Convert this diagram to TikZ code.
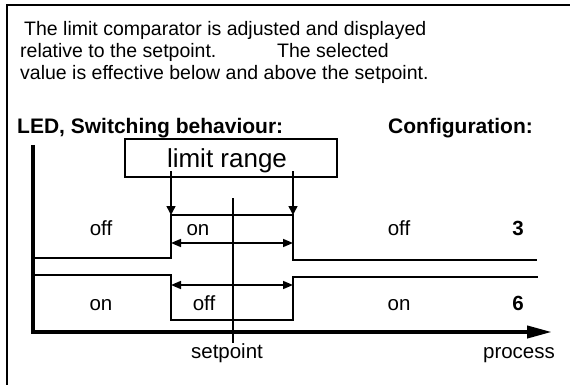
\documentclass[tikz,border=0pt]{standalone}
\usepackage{fontspec}
\setmainfont{Liberation Sans}
\usetikzlibrary{arrows.meta}
\begin{document}
\begin{tikzpicture}[x=1pt,y=-1pt,
  txt/.style={font=\fontsize{19.5}{22}\selectfont, inner sep=0pt, anchor=base west},
  hdr/.style={font=\fontsize{21}{24}\selectfont\bfseries, inner sep=0pt, anchor=base west},
  lbl/.style={font=\fontsize{20.5}{24}\selectfont, inner sep=0pt, anchor=base},
  cfg/.style={font=\fontsize{20.5}{24}\selectfont\bfseries, inner sep=0pt, anchor=base},
  frame/.style={line width=2pt},
  axis/.style={line width=4pt},
  curve/.style={line width=2pt, line join=miter},
  thin/.style={line width=1.5pt},
  dn/.style={line width=1.5pt, -{Triangle[length=9pt,width=9pt]}},
  dbl/.style={line width=1.5pt, {Triangle[length=10pt,width=8pt]}-{Triangle[length=10pt,width=8pt]}},
]
\useasboundingbox (0,0) rectangle (570,385);
% frame
\coordinate (fa) at (7,385);
\coordinate (fb) at (7,5);
\coordinate (fc) at (570,5);
\draw[frame] (fa) -- (fb) -- (fc);
% top text
\node[txt] (t1) at (24,36) {The limit comparator is adjusted and displayed};
\node[txt] (t2a) at (20,58) {relative to the setpoint.};
\node[txt] (t2b) at (277,58) {The selected};
\node[txt] (t3) at (20,80) {value is effective below and above the setpoint.};
% headers
\node[hdr] (h1) at (17,133) {LED, Switching behaviour:};
\node[hdr] (h2) at (388,133) {Configuration:};
% limit range box
\node[draw, line width=2pt, minimum width=212pt, minimum height=38pt, inner sep=0pt] (box) at (231,158) {};
\node[font=\fontsize{26}{30}\selectfont, inner sep=0pt, anchor=base] (lr) at (227,167) {limit range};
% coordinates
\coordinate (a1) at (171,171);
\coordinate (a2) at (171,215);
\coordinate (b1) at (293,171);
\coordinate (b2) at (293,215);
\draw[dn] (a1) -- (a2);
\draw[dn] (b1) -- (b2);
% axes
\coordinate (o) at (33,332);
\coordinate (yt) at (33,145);
\coordinate (xs) at (31,332);
\coordinate (xt) at (552,332);
\draw[axis] (yt) -- (33,334);
\draw[axis, -{Triangle[length=25pt,width=12pt]}] (xs) -- (xt);
% setpoint line
\coordinate (s1) at (233,198);
\coordinate (s2) at (233,343);
\draw[line width=2pt] (s1) -- (s2);
% upper curve (config 3)
\coordinate (u0) at (33,258);
\coordinate (u1) at (171,258);
\coordinate (u2) at (171,215);
\coordinate (u3) at (293,215);
\coordinate (u4) at (293,260);
\coordinate (u5) at (537,260);
\draw[curve] (u0) -- (u1) -- (u2) -- (u3) -- (u4) -- (u5);
% lower curve (config 6)
\coordinate (l0) at (33,275);
\coordinate (l1) at (171,275);
\coordinate (l2) at (171,320);
\coordinate (l3) at (293,320);
\coordinate (l4) at (293,277);
\coordinate (l5) at (538,277);
\draw[curve] (l0) -- (l1) -- (l2) -- (l3) -- (l4) -- (l5);
% double arrows
\coordinate (d1) at (171,243);
\coordinate (d2) at (293,243);
\coordinate (e1) at (171,285);
\coordinate (e2) at (293,285);
\draw[dbl] (d1) -- (d2);
\draw[dbl] (e1) -- (e2);
% labels
\node[lbl] (off1) at (101,235) {off};
\node[lbl] (on1) at (198,235) {on};
\node[lbl] (off2) at (399,235) {off};
\node[cfg] (c3) at (518,235) {3};
\node[lbl] (on2) at (101,310) {on};
\node[lbl] (off3) at (204,310) {off};
\node[lbl] (on3) at (399,310) {on};
\node[cfg] (c6) at (518,310) {6};
\node[lbl] (sp) at (227,358) {setpoint};
\node[lbl] (pr) at (519,358) {process};
\end{tikzpicture}
\end{document}
